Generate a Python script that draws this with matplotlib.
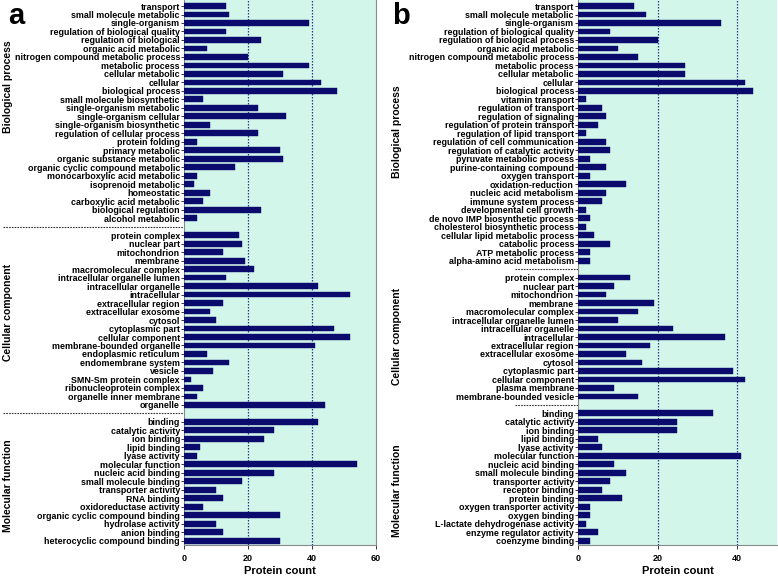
import matplotlib
matplotlib.use("Agg")
import matplotlib.pyplot as plt
from matplotlib.lines import Line2D

plt.rcParams['font.family'] = ['Liberation Sans', 'DejaVu Sans']
plt.rcParams['font.weight'] = 'bold'

# ---------------- Panel a data ----------------
a_bp_labels = ["transport", "small molecule metabolic", "single-organism",
               "regulation of biological quality", "regulation of biological",
               "organic acid metabolic", "nitrogen compound metabolic process",
               "metabolic process", "cellular metabolic", "cellular",
               "biological process", "small molecule biosynthetic",
               "single-organism metabolic", "single-organism cellular",
               "single-organism biosynthetic", "regulation of cellular process",
               "protein folding", "primary metabolic", "organic substance metabolic",
               "organic cyclic compound metabolic", "monocarboxylic acid metabolic",
               "isoprenoid metabolic", "homeostatic", "carboxylic acid metabolic",
               "biological regulation", "alcohol metabolic"]
a_bp_values = [13, 14, 39, 13, 24, 7, 20, 39, 31, 43, 48, 6, 23, 32, 8, 23, 4,
               30, 31, 16, 4, 3, 8, 6, 24, 4]

a_cc_labels = ["protein complex", "nuclear part", "mitochondrion", "membrane",
               "macromolecular complex", "intracellular organelle lumen",
               "intracellular organelle", "intracellular", "extracellular region",
               "extracellular exosome", "cytosol", "cytoplasmic part",
               "cellular component", "membrane-bounded organelle",
               "endoplasmic reticulum", "endomembrane system", "vesicle",
               "SMN-Sm protein complex", "ribonucleoprotein complex",
               "organelle inner membrane", "organelle"]
a_cc_values = [17, 18, 12, 19, 22, 13, 42, 52, 12, 8, 10, 47, 52, 41, 7, 14, 9,
               2, 6, 4, 44]

a_mf_labels = ["binding", "catalytic activity", "ion binding", "lipid binding",
               "lyase activity", "molecular function", "nucleic acid binding",
               "small molecule binding", "transporter activity", "RNA binding",
               "oxidoreductase activity", "organic cyclic compound binding",
               "hydrolase activity", "anion binding", "heterocyclic compound binding"]
a_mf_values = [42, 28, 25, 5, 4, 54, 28, 18, 10, 12, 6, 30, 10, 12, 30]

# ---------------- Panel b data ----------------
b_bp_labels = ["transport", "small molecule metabolic", "single-organism",
               "regulation of biological quality", "regulation of biological process",
               "organic acid metabolic", "nitrogen compound metabolic process",
               "metabolic process", "cellular metabolic", "cellular",
               "biological process", "vitamin transport", "regulation of transport",
               "regulation of signaling", "regulation of protein transport",
               "regulation of lipid transport", "regulation of cell communication",
               "regulation of catalytic activity", "pyruvate metabolic process",
               "purine-containing compound", "oxygen transport",
               "oxidation-reduction", "nucleic acid metabolism",
               "immune system process", "developmental cell growth",
               "de novo IMP biosynthetic process", "cholesterol biosynthetic process",
               "cellular lipid metabolic process", "catabolic process",
               "ATP metabolic process", "alpha-amino acid metabolism"]
b_bp_values = [14, 17, 36, 8, 20, 10, 15, 27, 27, 42, 44, 2, 6, 7, 5, 2, 7,
               8, 3, 7, 3, 12, 7, 6, 2, 3, 2, 4, 8, 3, 3]

b_cc_labels = ["protein complex", "nuclear part", "mitochondrion", "membrane",
               "macromolecular complex", "intracellular organelle lumen",
               "intracellular organelle", "intracellular", "extracellular region",
               "extracellular exosome", "cytosol", "cytoplasmic part",
               "cellular component", "plasma membrane", "membrane-bounded vesicle"]
b_cc_values = [13, 9, 7, 19, 15, 10, 24, 37, 18, 12, 16, 39, 42, 9, 15]

b_mf_labels = ["binding", "catalytic activity", "ion binding", "lipid binding",
               "lyase activity", "molecular function", "nucleic acid binding",
               "small molecule binding", "transporter activity", "receptor binding",
               "protein binding", "oxygen transporter activity", "oxygen binding",
               "L-lactate dehydrogenase activity", "enzyme regulator activity",
               "coenzyme binding"]
b_mf_values = [34, 25, 25, 5, 6, 41, 9, 12, 8, 6, 11, 3, 3, 2, 5, 3]

group_names = ["Biological process", "Cellular component", "Molecular function"]

W, H = 778, 577
fig = plt.figure(figsize=(W / 100, H / 100), dpi=100)

BAR = '#0b0b6d'
BG = '#d3f6ea'
GRID = '#2a3a8a'
SPINE = '#8a8a8a'


def panel(rect_px, groups, xmax, xticks, letter, letter_xy, sep_x0_px, grp_x_px, grp_y_px):
    left, right, top, bottom = rect_px
    ax = fig.add_axes([left / W, 1 - bottom / H, (right - left) / W, (bottom - top) / H])
    ax.set_facecolor(BG)
    labels, values, ypos = [], [], []
    seps = []
    slot = 0
    for gi, (lab, val) in enumerate(groups):
        for l, v in zip(lab, val):
            labels.append(l)
            values.append(v)
            ypos.append(slot)
            slot += 1
        if gi < len(groups) - 1:
            seps.append(slot)
            slot += 1
    n_last = slot - 1
    ax.barh(ypos, values, height=0.68, color=BAR, edgecolor=BAR, linewidth=0.3, zorder=3)
    ax.set_yticks(ypos)
    ax.set_yticklabels(labels, fontsize=6.4, fontweight='bold')
    ax.set_xlim(0, xmax)
    ax.set_ylim(n_last + 0.45, -0.71)
    ax.set_xticks(xticks)
    ax.set_xticklabels([str(t) for t in xticks], fontsize=6.5, fontweight='bold')
    for g in [20, 40]:
        if g < xmax:
            ax.axvline(g, color=GRID, linestyle=(0, (1.2, 1.2)), linewidth=0.9, zorder=2)
    ax.tick_params(axis='y', length=2.5, width=0.7, pad=0.6, color='#333333')
    ax.tick_params(axis='x', length=3, width=0.7, pad=4, color='#333333')
    ax.spines['top'].set_visible(False)
    for s in ['left', 'bottom', 'right']:
        ax.spines[s].set_color(SPINE)
        ax.spines[s].set_linewidth(0.8)
    # separators in the label area
    trans = ax.get_yaxis_transform()
    x0 = (sep_x0_px - left) / (right - left)
    for s in seps:
        ax.add_line(Line2D([x0, 0], [s, s], transform=trans, color='#333333',
                           linestyle=(0, (1.5, 1.0)), linewidth=0.8, clip_on=False))
    # group labels
    for name, gy in zip(group_names, grp_y_px):
        fig.text(grp_x_px / W, 1 - gy / H, name, rotation=90, ha='center', va='center',
                 fontsize=7.5, fontweight='bold')
    ax.set_xlabel('Protein count', fontsize=8, fontweight='bold', labelpad=2)
    fig.text(letter_xy[0] / W, 1 - letter_xy[1] / H, letter, fontsize=21,
             fontweight='bold', ha='left', va='center')
    return ax


axa = panel((184.3, 375.7, 0, 544.5),
            [(a_bp_labels, a_bp_values), (a_cc_labels, a_cc_values), (a_mf_labels, a_mf_values)],
            60, [0, 20, 40, 60], 'a', (8, 16), 3, 8, [87, 312, 486])

axb = panel((578.3, 776.6, 0, 544.5),
            [(b_bp_labels, b_bp_values), (b_cc_labels, b_cc_values), (b_mf_labels, b_mf_values)],
            50, [0, 20, 40], 'b', (392, 16), 515, 397, [132, 336, 491])
axb.spines['right'].set_visible(False)

fig.savefig('out.png', dpi=100)
